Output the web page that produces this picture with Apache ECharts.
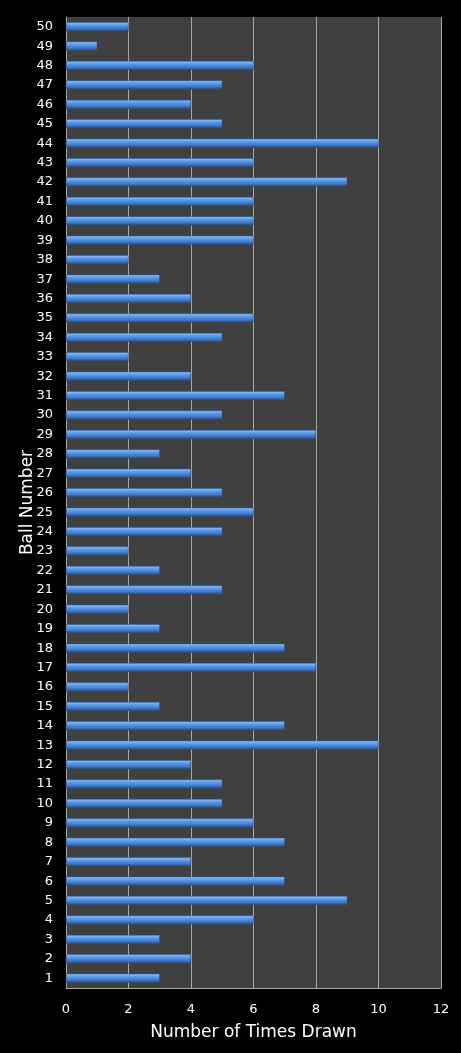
<!DOCTYPE html>
<html>
<head>
<meta charset="utf-8">
<script src="https://cdn.jsdelivr.net/npm/echarts@6/dist/echarts.min.js"></script>
<style>
    html, body { margin: 0; padding: 0; background: #000; }
    #chart { width: 461px; height: 1053px; }
</style>
</head>
<body>
<div id="chart"></div>
<script>
'use strict';

var balls = [];
for (var i = 1; i <= 50; i++) balls.push(String(i));

var timesDrawn = [
    3, 4, 3, 6, 9, 7, 4, 7, 6, 5,
    5, 4, 10, 7, 3, 2, 8, 7, 3, 2,
    5, 3, 2, 5, 6, 5, 4, 3, 8, 5,
    7, 4, 2, 5, 6, 4, 3, 2, 6, 6,
    6, 9, 6, 10, 5, 4, 5, 6, 1, 2
];

var xTicks = { min: 0, max: 12, interval: 2 };

var font = 'DejaVu Sans, Verdana, sans-serif';

var myChart = echarts.init(document.getElementById('chart'));

var option = {
    backgroundColor: '#000',
    animation: false,
    grid: {
        left: 66,
        right: 20,
        top: 17,
        bottom: 65,
        show: true,
        backgroundColor: '#404040',
        borderWidth: 0
    },
    xAxis: {
        type: 'value',
        min: xTicks.min,
        max: xTicks.max,
        interval: xTicks.interval,
        name: 'Number of Times Drawn',
        nameLocation: 'middle',
        nameGap: 36,
        nameTextStyle: { color: '#fff', fontSize: 17, fontFamily: font },
        axisLine: { show: true, lineStyle: { color: '#a8a8a8', width: 1 } },
        axisTick: { show: false },
        axisLabel: { color: '#fff', fontSize: 13, fontFamily: font, margin: 15 },
        splitLine: { show: true, lineStyle: { color: '#a8a8a8', width: 1 } }
    },
    yAxis: {
        type: 'category',
        data: balls,
        name: 'Ball Number',
        nameLocation: 'middle',
        nameGap: 30,
        nameMoveOverlap: false,
        nameRotate: 90,
        nameTextStyle: { color: '#fff', fontSize: 17, fontFamily: font },
        axisLine: { show: true, lineStyle: { color: '#a8a8a8', width: 1 } },
        axisTick: { show: false },
        axisLabel: { color: '#fff', fontSize: 13, fontFamily: font, margin: 13, interval: 0 },
        splitLine: { show: false }
    },
    series: [{
        name: 'Times Drawn',
        type: 'bar',
        data: timesDrawn,
        barWidth: 9,
        itemStyle: {
            color: new echarts.graphic.LinearGradient(0, 0, 0, 1, [
                { offset: 0, color: '#9cc6f5' },
                { offset: 0.3, color: '#5f9ee8' },
                { offset: 0.7, color: '#3c78cc' },
                { offset: 1, color: '#1d4a8c' }
            ]),
            borderColor: '#2a5595',
            borderWidth: 0.5
        }
    }]
};

myChart.setOption(option);
</script>
</body>
</html>
